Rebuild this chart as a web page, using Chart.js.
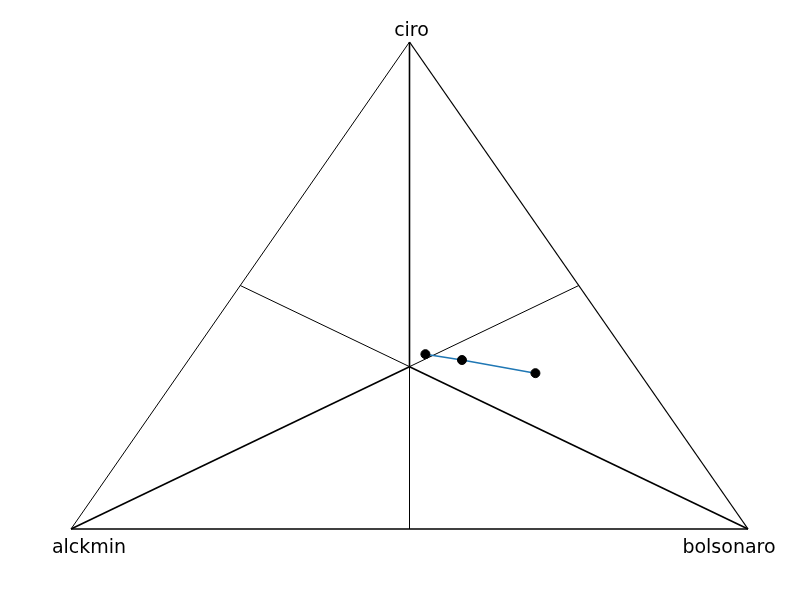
<!DOCTYPE html>
<html>
<head>
<meta charset="utf-8">
<script src="https://cdn.jsdelivr.net/npm/chart.js@4/dist/chart.umd.min.js"></script>
<style>
html,body{margin:0;padding:0;background:#fff;}
#wrap{width:800px;height:600px;}
</style>
</head>
<body>
<div id="wrap"><canvas id="c" width="800" height="600"></canvas></div>
<script>
// Ternary components (shares) for each observation
const categories = ['ciro', 'alckmin', 'bolsonaro'];
const ciro = [0.359, 0.347, 0.320];
const alckmin = [0.297, 0.249, 0.154];
const bolsonaro = [0.344, 0.404, 0.526];

// ternary -> cartesian (alckmin at (0,0), bolsonaro at (1,0), ciro at (0.5,1))
function tern(a, b, c) { const s = a + b + c; return { x: (b + 0.5 * c) / s, y: c / s }; }

const pts = ciro.map((c, i) => tern(alckmin[i], bolsonaro[i], c));
const A = tern(1, 0, 0), B = tern(0, 1, 0), C = tern(0, 0, 1);
const G = tern(1, 1, 1);
const mAB = tern(1, 1, 0), mBC = tern(0, 1, 1), mAC = tern(1, 0, 1);

function seg(p, q, w) {
  return { type: 'line', data: [p, q], borderColor: '#000', borderWidth: w, pointRadius: 0, fill: false, tension: 0, order: 5 };
}

const labelPlugin = {
  id: 'vertexLabels',
  afterDatasetsDraw(chart) {
    const ctx = chart.ctx, xs = chart.scales.x, ys = chart.scales.y;
    ctx.save();
    ctx.fillStyle = '#000';
    ctx.font = '19px "DejaVu Sans"';
    ctx.textAlign = 'center';
    ctx.textBaseline = 'alphabetic';
    ctx.fillText(categories[0], xs.getPixelForValue(C.x) + 2, ys.getPixelForValue(C.y) - 6);
    ctx.fillText(categories[1], xs.getPixelForValue(A.x) + 18, ys.getPixelForValue(A.y) + 24);
    ctx.fillText(categories[2], xs.getPixelForValue(B.x) - 19, ys.getPixelForValue(B.y) + 24);
    ctx.restore();
  }
};

new Chart(document.getElementById('c'), {
  type: 'scatter',
  data: {
    datasets: [
      seg(A, B, 1.6), seg(B, C, 1.3), seg(A, C, 1),
      seg(C, G, 1.6), seg(A, G, 1.6), seg(B, G, 1.6),
      seg(G, mAB, 1), seg(G, mBC, 1), seg(G, mAC, 1),
      { type: 'line', data: pts, borderColor: '#1f77b4', borderWidth: 1.5, pointRadius: 0, fill: false, tension: 0, order: 2 },
      { type: 'scatter', data: pts, backgroundColor: '#000', borderColor: '#000', pointRadius: 4.5, order: 1 }
    ]
  },
  options: {
    responsive: false,
    animation: false,
    layout: { padding: { left: 71, right: 52, top: 42, bottom: 71 } },
    scales: {
      x: { type: 'linear', min: 0, max: 1, display: false },
      y: { type: 'linear', min: 0, max: 1, display: false }
    },
    plugins: { legend: { display: false }, tooltip: { enabled: false } },
    clip: false
  },
  plugins: [labelPlugin]
});
</script>
</body>
</html>
